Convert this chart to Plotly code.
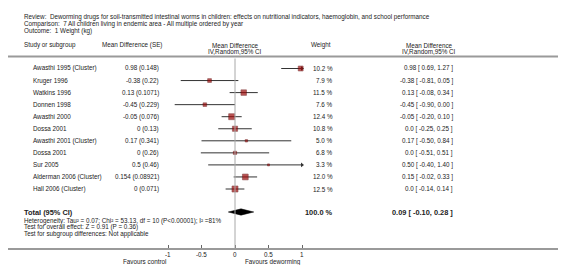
import plotly.graph_objects as go

# ---------------- data ----------------
studies = ["Awasthi 1995 (Cluster)", "Kruger 1996", "Watkins 1996", "Donnen 1998",
           "Awasthi 2000", "Dossa 2001", "Awasthi 2001 (Cluster)", "Dossa 2001",
           "Sur 2005", "Alderman 2006 (Cluster)", "Hall 2006 (Cluster)"]
mean_diff = [0.98, -0.38, 0.13, -0.45, -0.05, 0, 0.17, 0, 0.5, 0.154, 0]
std_err = [0.148, 0.22, 0.1071, 0.229, 0.076, 0.13, 0.341, 0.26, 0.46, 0.08921, 0.071]
ci_low = [0.69, -0.81, -0.08, -0.90, -0.20, -0.25, -0.50, -0.51, -0.40, -0.02, -0.14]
ci_high = [1.27, 0.05, 0.34, 0.00, 0.10, 0.25, 0.84, 0.51, 1.40, 0.33, 0.14]
weights = [10.2, 7.9, 11.5, 7.6, 12.4, 10.8, 5.0, 6.8, 3.3, 12.0, 12.5]
total_est, total_low, total_high, total_weight = 0.09, -0.10, 0.28, 100.0
tick_vals = [-1, -0.5, 0, 0.5, 1]
tick_text = ["-1", "-0.5", "0", "0.5", "1"]

title_lines = [
    "Review:  Deworming drugs for soil-transmitted intestinal worms in children: effects on nutritional indicators, haemoglobin, and school performance",
    "Comparison:  7 All children living in endemic area - All multiple ordered by year",
    "Outcome:  1 Weight (kg)",
]
stats_lines = [
    "Heterogeneity: Tau² = 0.07; Chi² = 53.13, df = 10 (P<0.00001); I² =81%",
    "Test for overall effect: Z = 0.91 (P = 0.36)",
    "Test for subgroup differences: Not applicable",
]

# ---------------- layout helpers ----------------
W, H = 566, 265
X0_PX, UNIT_PX = 227.0, 67.0            # pixel of x=0, pixels per unit
ROW0_PX, ROW_PX = 60.5, 12.05            # pixel of first row, row pitch
TOP_PX, AXIS_PX = 48.5, 240.0            # header rule, bottom axis
TOTAL_ROW = (204 - ROW0_PX) / ROW_PX
AXMAX = 1.0

def px(x):
    return x / W

def py(y):
    return 1 - y / H

FONT = "Liberation Sans, Arial, sans-serif"
TXT = "#222222"
FS = 6.3
FSB = 7.4
GRAY = "#9a9a9a"

rows = list(range(len(studies)))

fig = go.Figure()

# CI lines (clipped at axis end)
lx, ly = [], []
for i, lo, hi in zip(rows, ci_low, ci_high):
    lx += [lo, min(hi, AXMAX), None]
    ly += [i, i, None]
fig.add_trace(go.Scatter(x=lx, y=ly, mode="lines",
                         line=dict(color="#333333", width=1), hoverinfo="skip"))

# arrows for clipped CIs
ax_, ay_ = [], []
for i, hi in zip(rows, ci_high):
    if hi > AXMAX:
        ax_.append(AXMAX)
        ay_.append(i)
fig.add_trace(go.Scatter(x=ax_, y=ay_, mode="markers",
                         marker=dict(symbol="triangle-right", size=4, color="#333333"),
                         hoverinfo="skip"))

# study squares
fig.add_trace(go.Scatter(
    x=mean_diff, y=rows, mode="markers",
    marker=dict(symbol="square", size=[max(2.0, 0.48 * w) for w in weights],
                color="#9c0a0a", line=dict(color="#5a0000", width=0.6)),
    hoverinfo="skip"))

# pooled diamond
dh = 0.26
fig.add_trace(go.Scatter(
    x=[total_low, total_est, total_high, total_est, total_low],
    y=[TOTAL_ROW, TOTAL_ROW - dh, TOTAL_ROW, TOTAL_ROW + dh, TOTAL_ROW],
    mode="lines", fill="toself", fillcolor="#000000",
    line=dict(color="#000000", width=0.5), hoverinfo="skip"))

ann = []

def text(x, y, s, anchor="left", size=FS, bold=False, yref="paper", xref="paper"):
    ann.append(dict(x=x, y=y, xref=xref, yref=yref, text=("<b>%s</b>" % s) if bold else s,
                    showarrow=False, xanchor=anchor, yanchor="middle",
                    font=dict(family=FONT, size=size, color=TXT)))

# titles
for k, line in enumerate(title_lines):
    text(px(14), py(9.5 + 6.8 * k), line)

# headers
text(px(14), py(37.5), "Study or subgroup")
text(px(92), py(37.5), "Mean Difference (SE)")
text(px(227), py(37.5), "Mean Difference", anchor="center")
text(px(227), py(43.5), "IV,Random,95% CI", anchor="center")
text(px(301), py(37.5), "Weight")
text(px(421), py(37.5), "Mean Difference", anchor="center")
text(px(421), py(43.5), "IV,Random,95% CI", anchor="center")

# study rows
for i in rows:
    text(px(23), i, studies[i], yref="y")
    text(px(153), i, f"{mean_diff[i]:g} ({std_err[i]:g})", anchor="right", yref="y")
    text(px(327), i, f"{weights[i]:.1f} %", anchor="right", yref="y")
    est = "0.0" if mean_diff[i] == 0 else f"{mean_diff[i]:.2f}"
    text(px(447), i, f"{est} [ {ci_low[i]:.2f}, {ci_high[i]:.2f} ]", anchor="right", yref="y")

# total row
text(px(14), TOTAL_ROW, "Total (95% CI)", size=FSB, bold=True, yref="y")
text(px(327), TOTAL_ROW, f"{total_weight:.1f} %", anchor="right", size=FSB, bold=True, yref="y")
text(px(447), TOTAL_ROW, f"{total_est:.2f} [ {total_low:.2f}, {total_high:.2f} ]",
     anchor="right", size=FSB, bold=True, yref="y")

for k, line in enumerate(stats_lines):
    text(px(14), py(213 + 6.4 * k), line)

# tick labels (drawn as text so they sit tight under the axis)
for v, t in zip(tick_vals, tick_text):
    text(v, py(246.5), t, anchor="center", xref="x")

# favours labels
text(px(136), py(253.5), "Favours control", anchor="center")
text(px(265), py(253.5), "Favours deworming", anchor="center")

x_left = (0 - X0_PX) / UNIT_PX
x_right = (W - X0_PX) / UNIT_PX
y_top = (TOP_PX - ROW0_PX) / ROW_PX
y_bot = (AXIS_PX - ROW0_PX) / ROW_PX

shapes = [
    dict(type="line", xref="paper", yref="paper", x0=0, x1=1, y0=py(TOP_PX), y1=py(TOP_PX),
         line=dict(color=GRAY, width=2)),
    dict(type="line", xref="x", yref="paper", x0=0, x1=0, y0=py(AXIS_PX), y1=py(TOP_PX + 2),
         line=dict(color="#a8a8a8", width=1)),
]

fig.update_layout(
    width=W, height=H, margin=dict(l=0, r=0, t=0, b=0),
    paper_bgcolor="white", plot_bgcolor="white", showlegend=False,
    annotations=ann, shapes=shapes,
    xaxis=dict(domain=[0, 1], range=[x_left, x_right], showgrid=False, zeroline=False,
               showline=True, linecolor=GRAY, linewidth=2,
               tickmode="array", tickvals=tick_vals, ticktext=tick_text, showticklabels=False,
               ticks="inside", ticklen=3, tickcolor="#666666", tickwidth=1, fixedrange=True),
    yaxis=dict(domain=[py(AXIS_PX), py(TOP_PX)], range=[y_bot, y_top], showgrid=False,
               zeroline=False, showticklabels=False, showline=False, fixedrange=True),
)

fig.write_html("out.html")
